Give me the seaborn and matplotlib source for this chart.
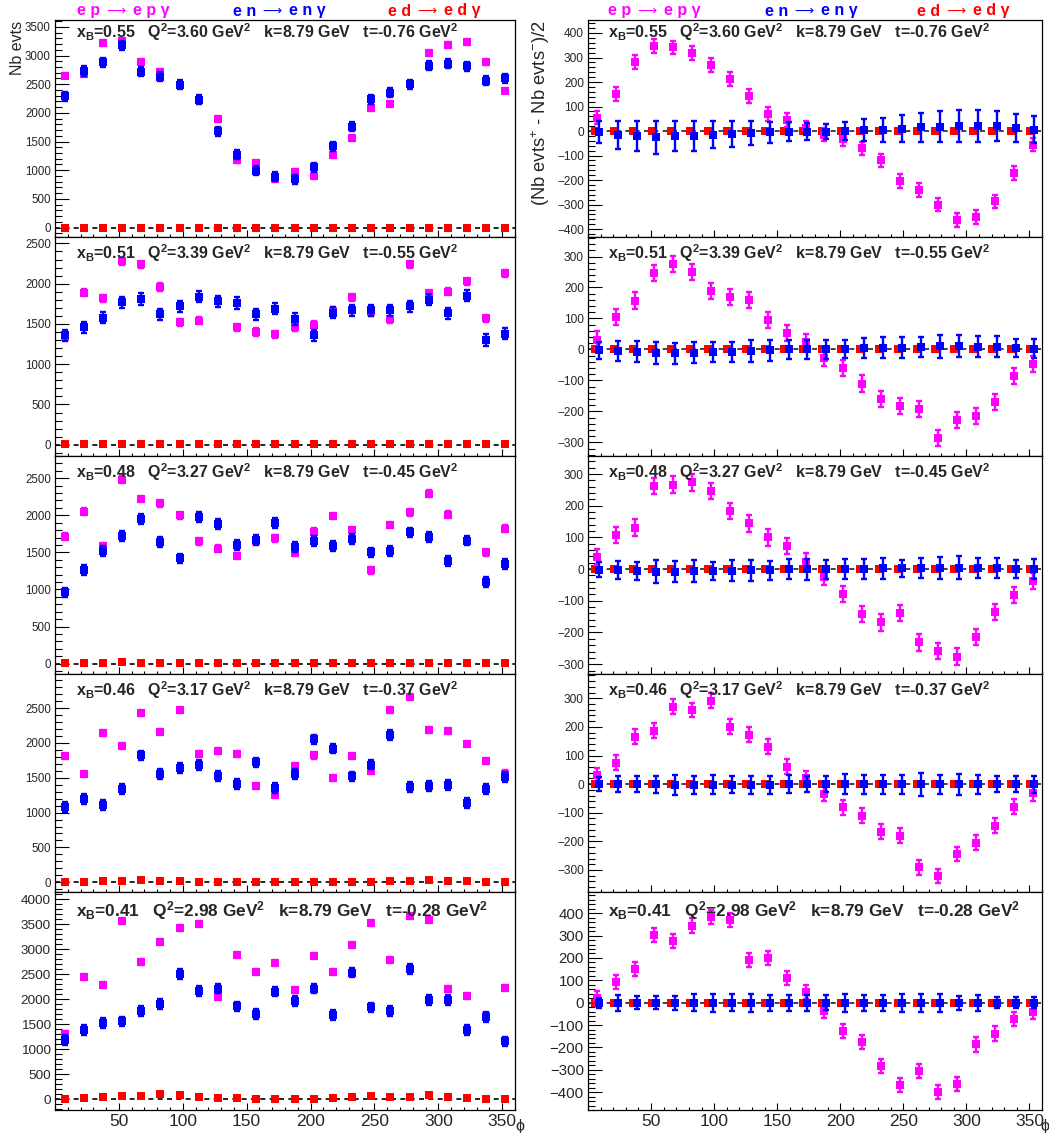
import numpy as np
import pandas as pd
import matplotlib
matplotlib.use("Agg")
import matplotlib.pyplot as plt
from matplotlib.ticker import MultipleLocator, FixedLocator
import seaborn as sns

# phi bin centres (deg)
phi = [7.5, 22.5, 37.5, 52.5, 67.5, 82.5, 97.5, 112.5, 127.5, 142.5, 157.5, 172.5,
       187.5, 202.5, 217.5, 232.5, 247.5, 262.5, 277.5, 292.5, 307.5, 322.5, 337.5, 352.5]
phi_ticks = [50, 100, 150, 200, 250, 300, 350]

# kinematic bins, one per row
xB = [0.55, 0.51, 0.48, 0.46, 0.41]
Q2 = [3.60, 3.39, 3.27, 3.17, 2.98]
kbeam = 8.79
tval = [-0.76, -0.55, -0.45, -0.37, -0.28]

# ---- left column: number of events ----
ep_cnt1 = [2650, 2670, 3220, 3260, 2890, 2720, 2480, 2230, 1890, 1180, 1130, 850,
           970, 900, 1260, 1560, 2090, 2160, 2500, 3050, 3190, 3240, 2890, 2390]
en_cnt1 = [2290, 2730, 2880, 3180, 2720, 2630, 2490, 2230, 1680, 1270, 990, 890,
           840, 1050, 1420, 1760, 2240, 2350, 2500, 2820, 2860, 2810, 2560, 2600]
ed_cnt1 = [0, 0, 0, 0, 0, 0, 0, 0, 0, 0, 0, 0, 0, 0, 0, 0, 0, 0, 0, 0, 0, 0, 0, 0]

ep_cnt2 = [1340, 1890, 1820, 2280, 2240, 1960, 1520, 1540, 1790, 1460, 1400, 1370,
           1460, 1490, 1660, 1830, 1650, 1560, 2240, 1880, 1900, 2030, 1570, 2130]
en_cnt2 = [1360, 1460, 1580, 1770, 1810, 1620, 1720, 1840, 1780, 1760, 1620, 1690,
           1560, 1360, 1640, 1670, 1670, 1670, 1720, 1800, 1630, 1850, 1300, 1380]
ed_cnt2 = [5, 5, 8, 15, 8, 5, 5, 5, 5, 5, 5, 5, 5, 5, 5, 5, 5, 5, 5, 8, 8, 5, 5, 5]

ep_cnt3 = [1710, 2050, 1580, 2480, 2220, 2160, 2000, 1650, 1550, 1450, 1660, 1690,
           1490, 1780, 1990, 1800, 1260, 1870, 2040, 2290, 2010, 1660, 1500, 1820]
en_cnt3 = [960, 1260, 1520, 1720, 1950, 1640, 1420, 1980, 1880, 1600, 1670, 1900,
           1570, 1650, 1590, 1680, 1500, 1520, 1770, 1710, 1380, 1660, 1100, 1340]
ed_cnt3 = [3, 5, 12, 18, 12, 12, 8, 5, 3, 2, 2, 2, 2, 2, 2, 3, 3, 5, 10, 15, 12, 10, 5, 3]

ep_cnt4 = [1810, 1550, 2140, 1960, 2430, 2160, 2470, 1840, 1880, 1840, 1380, 1250,
           1670, 1820, 1500, 1810, 1600, 2470, 2660, 2190, 2170, 1980, 1740, 1560]
en_cnt4 = [1080, 1200, 1110, 1340, 1820, 1550, 1640, 1680, 1530, 1410, 1720, 1350,
           1550, 2050, 1920, 1520, 1690, 2110, 1370, 1380, 1400, 1140, 1340, 1510]
ed_cnt4 = [10, 5, 15, 20, 30, 15, 15, 10, 10, 5, 5, 0, 0, 0, 0, 5, 10, 15, 15, 30, 20, 15, 5, 5]

ep_cnt5 = [1310, 2450, 2280, 3570, 2740, 3140, 3430, 3510, 2050, 2890, 2540, 2730,
           2190, 2870, 2550, 3090, 3520, 2780, 3670, 3590, 2210, 2070, 1660, 2220]
en_cnt5 = [1190, 1390, 1530, 1560, 1770, 1900, 2500, 2160, 2210, 1860, 1710, 2150,
           1960, 2210, 1690, 2530, 1840, 1770, 2600, 1980, 1990, 1390, 1650, 1160]
ed_cnt5 = [0, 20, 40, 65, 70, 100, 85, 40, 20, 20, 15, 5, 15, 15, 20, 40, 60, 45, 55, 80, 40, 35, 10, 10]

ep_cnt_err = [50, 45, 45, 45, 60]
en_cnt_err = [80, 70, 65, 70, 95]

# ---- right column: (N+ - N-)/2 ----
ep_asy1 = [55, 150, 283, 348, 341, 317, 270, 212, 143, 71, 44, 14,
           -14, -34, -71, -120, -205, -239, -300, -362, -351, -287, -171, -55]
en_asy1 = [-5, -15, -20, -25, -20, -20, -15, -12, -8, -5, -3, -2,
           -2, 0, 3, 5, 10, 15, 18, 22, 22, 20, 12, 5]
en_asy_err1 = [45, 58, 62, 68, 62, 60, 55, 52, 48, 42, 38, 33,
               32, 35, 45, 50, 55, 58, 62, 65, 65, 62, 58, 55]

ep_asy2 = [32, 104, 158, 246, 275, 249, 188, 168, 161, 96, 54, 25,
           -27, -59, -110, -161, -182, -193, -287, -228, -214, -171, -86, -48]
en_asy2 = [-3, -5, -8, -12, -12, -10, -8, -8, -5, -3, 0, 0,
           0, 2, 4, 5, 6, 8, 10, 10, 8, 8, 5, 3]
en_asy_err2 = [27, 32, 34, 36, 34, 34, 32, 32, 34, 33, 32, 30,
               31, 30, 32, 34, 35, 32, 37, 36, 34, 34, 30, 30]

ep_asy3 = [39, 108, 131, 263, 267, 274, 247, 184, 144, 100, 73, 24,
           -24, -78, -141, -168, -139, -231, -258, -276, -215, -136, -81, -37]
en_asy3 = [-2, -3, -5, -8, -8, -6, -5, -5, -4, -3, 0, 0,
           0, 0, 0, 2, 2, 3, 4, 5, 4, 3, 0, 0]
en_asy_err3 = [24, 28, 28, 36, 33, 34, 28, 33, 33, 30, 32, 33,
               30, 32, 32, 33, 28, 32, 34, 36, 32, 32, 28, 32]

ep_asy4 = [32, 75, 166, 186, 271, 259, 292, 201, 172, 131, 61, 20,
           -34, -81, -110, -166, -180, -291, -321, -244, -204, -146, -79, -32]
en_asy4 = [0, 0, 0, 0, -3, -3, -2, -2, -2, -2, 0, 0,
           0, 0, 0, 0, 0, 0, 0, 0, 0, 0, 0, 0]
en_asy_err4 = [25, 27, 28, 30, 35, 33, 33, 30, 32, 32, 32, 28,
               28, 35, 33, 33, 33, 40, 33, 37, 33, 28, 28, 30]

ep_asy5 = [22, 93, 150, 304, 277, 345, 382, 370, 190, 199, 109, 49,
           -37, -127, -175, -282, -367, -307, -400, -363, -187, -138, -72, -40]
en_asy5 = [0, 0, 0, 0, 0, 0, 0, 0, 0, 0, 0, 0,
           0, 0, 0, 0, 0, 0, 0, 0, 0, 0, 0, 0]
en_asy_err5 = [22, 35, 30, 30, 32, 37, 40, 38, 40, 35, 35, 35,
               33, 40, 35, 35, 40, 40, 40, 32, 35, 25, 25, 25]

ed_asy = [0, 0, 0, 0, 0, 0, 0, 0, 0, 0, 0, 0, 0, 0, 0, 0, 0, 0, 0, 0, 0, 0, 0, 0]
ep_asy_err = [28, 26, 26, 26, 32]

left_rows = [(ep_cnt1, en_cnt1, ed_cnt1), (ep_cnt2, en_cnt2, ed_cnt2), (ep_cnt3, en_cnt3, ed_cnt3),
             (ep_cnt4, en_cnt4, ed_cnt4), (ep_cnt5, en_cnt5, ed_cnt5)]
right_rows = [(ep_asy1, en_asy1, en_asy_err1), (ep_asy2, en_asy2, en_asy_err2),
              (ep_asy3, en_asy3, en_asy_err3), (ep_asy4, en_asy4, en_asy_err4),
              (ep_asy5, en_asy5, en_asy_err5)]

left_ylim = [(-165, 3620), (-140, 2580), (-140, 2800), (-140, 2990), (-210, 4140)]
right_ylim = [(-432, 453), (-344, 363), (-331, 357), (-377, 385), (-480, 495)]

# reaction headers: (before arrow, after arrow)
reactions = [("e p", "e p γ"), ("e n", "e n γ"), ("e d", "e d γ")]

col_ep, col_en, col_ed = "#ff00ff", "#0000ff", "#ff0000"

sns.set_theme(style="ticks")
plt.rcParams["font.family"] = ["Liberation Sans", "DejaVu Sans"]
plt.rcParams["mathtext.fontset"] = "custom"
plt.rcParams["mathtext.rm"] = "Liberation Sans"
plt.rcParams["mathtext.bf"] = "Liberation Sans:bold"
plt.rcParams["mathtext.it"] = "Liberation Sans:italic"

W, H = 1049, 1133
fig = plt.figure(figsize=(W / 100, H / 100), dpi=100)

# panel edges in pixels
row_top = [20, 237, 456, 674, 892]
row_bot = [237, 456, 674, 892, 1110]
col_x = [(55, 515), (588, 1042)]


def panel(c, r):
    x0, x1 = col_x[c]
    return fig.add_axes([x0 / W, 1 - row_bot[r] / H, (x1 - x0) / W, (row_bot[r] - row_top[r]) / H])


def draw_series(ax, xs, ys, err, color, z):
    if err is not None:
        ax.errorbar(xs, ys, yerr=err, fmt="none", ecolor=color, elinewidth=1.7,
                    capsize=2.3, capthick=1.7, zorder=z)
    d = pd.DataFrame({"phi": xs, "val": ys})
    sns.scatterplot(data=d, x="phi", y="val", color=color, marker="s", s=27,
                    linewidth=0, ax=ax, zorder=z + 0.5)


def style_axes(ax, r, c):
    ax.set_xlim(0, 360)
    ax.set_xlabel("")
    ax.set_ylabel("")
    ax.xaxis.set_major_locator(FixedLocator(phi_ticks))
    ax.xaxis.set_minor_locator(MultipleLocator(10))
    if c == 0:
        ax.yaxis.set_major_locator(MultipleLocator(500))
        ax.yaxis.set_minor_locator(MultipleLocator(100))
        ysize = 9.7 if r == 4 else 8.3
    else:
        ax.yaxis.set_major_locator(MultipleLocator(100))
        ax.yaxis.set_minor_locator(MultipleLocator(20))
        ysize = 10.8 if r == 4 else 8.6
    ax.tick_params(axis="both", which="both", direction="in", top=False, right=False,
                   color="black", width=0.8)
    ax.tick_params(axis="y", which="major", length=10, labelsize=ysize, pad=3)
    ax.tick_params(axis="y", which="minor", length=5)
    ax.tick_params(axis="x", which="major", length=5, labelsize=12.5, pad=3,
                   labelbottom=(r == 4))
    ax.tick_params(axis="x", which="minor", length=2.5)
    for sp in ax.spines.values():
        sp.set_color("black")
        sp.set_linewidth(0.9)
    ax.grid(False)


for r in range(5):
    # left: counts
    ax = panel(0, r)
    ep, en, ed = left_rows[r]
    ax.axhline(0, color="black", lw=1.2, ls=(0, (3, 2.6)), zorder=1)
    draw_series(ax, phi, ed, None, col_ed, 2)
    draw_series(ax, phi, ep, ep_cnt_err[r], col_ep, 3)
    draw_series(ax, phi, en, en_cnt_err[r], col_en, 4)
    ax.set_ylim(*left_ylim[r])
    style_axes(ax, r, 0)

    # right: beam-charge difference
    ax = panel(1, r)
    ep, en, enerr = right_rows[r]
    ax.axhline(0, color="#222222", lw=1.2, ls=(0, (3, 2.6)), zorder=1)
    draw_series(ax, [p - 2 for p in phi], ed_asy, None, col_ed, 2)
    draw_series(ax, phi, ep, ep_asy_err[r], col_ep, 3)
    draw_series(ax, [p + 1.5 for p in phi], en, enerr, col_en, 4)
    ax.set_ylim(*right_ylim[r])
    style_axes(ax, r, 1)

    # kinematics text (plain bold text, math only for sub/superscripts)
    label = (r"x$_{\mathbf{B}}$=%.2f   Q$^{\mathbf{2}}$=%.2f GeV$^{\mathbf{2}}$   "
             r"k=%.2f GeV   t=%.2f GeV$^{\mathbf{2}}$" % (xB[r], Q2[r], kbeam, tval[r]))
    off = 18 if r == 0 else (24 if r == 4 else 22)
    fs = 12.45 if r == 4 else 11.5
    for xt in (76, 608):
        fig.text(xt / W, 1 - (row_top[r] + off) / H, label, fontsize=fs,
                 fontweight="bold", ha="left", va="baseline")

# reaction headers, arrow as a long arrow glyph
for xs in ((77, 233, 388), (608, 765, 917)):
    for xp, (a, b), col in zip(xs, reactions, [col_ep, col_en, col_ed]):
        y = 1 - 11 / H
        fig.text(xp / W, y, a, color=col, fontsize=11.5, fontweight="bold",
                 ha="left", va="center")
        fig.text((xp + 29) / W, y, "⟶", color=col, fontsize=9.6,
                 family="DejaVu Sans", ha="left", va="center")
        fig.text((xp + 56) / W, y, b, color=col, fontsize=11.5, fontweight="bold",
                 ha="left", va="center")

# axis titles
fig.text(17 / W, 1 - 21 / H, "Nb evts", rotation=90, ha="center", va="top", fontsize=11.5)
fig.text(541 / W, 1 - 20 / H, r"(Nb evts$^{+}$ - Nb evts$^{-}$)/2", rotation=90,
         ha="center", va="top", fontsize=13.2)
for xp in (520, 1045):
    fig.text(xp / W, 1 - 1127 / H, "ϕ", ha="center", va="center", fontsize=11.5)

fig.savefig("out.png", dpi=100)
